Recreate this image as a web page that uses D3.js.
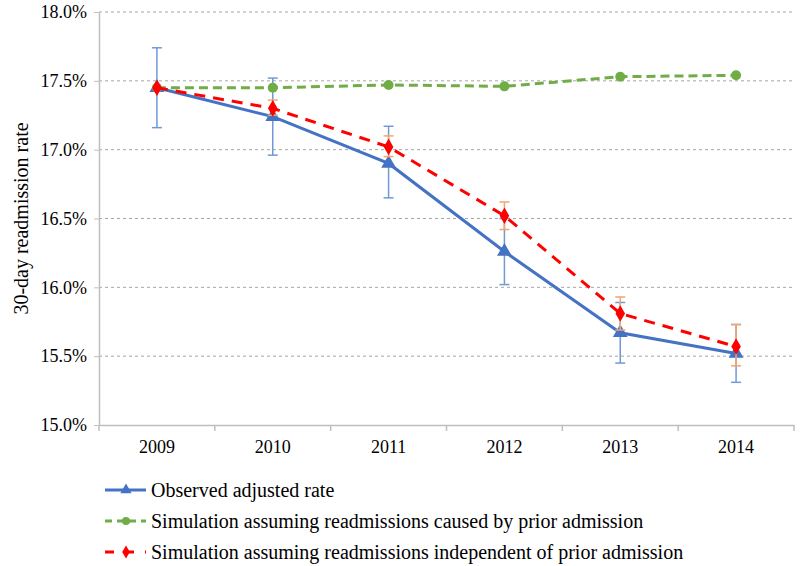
<!DOCTYPE html>
<html><head><meta charset="utf-8">
<script src="https://cdn.jsdelivr.net/npm/d3@7"></script>
<style>svg text{font-family:"Liberation Serif" !important;}</style>
</head><body style="margin:0"><svg id="c" width="800" height="566"></svg>
<script>
const years = ["2009","2010","2011","2012","2013","2014"];
const observed = [17.45, 17.24, 16.90, 16.26, 15.67, 15.52];
const observedLow = [17.16, 16.96, 16.65, 16.02, 15.45, 15.31];
const observedHigh = [17.74, 17.52, 17.17, 16.50, 15.89, 15.73];
const simCaused = [17.45, 17.45, 17.47, 17.46, 17.53, 17.54];
const simIndep = [17.45, 17.30, 17.02, 16.52, 15.81, 15.57];
const simIndepLow = [null, 17.25, 16.95, 16.42, 15.69, 15.43];
const simIndepHigh = [null, 17.36, 17.10, 16.62, 15.93, 15.73];
const yTicks = [15.0, 15.5, 16.0, 16.5, 17.0, 17.5, 18.0];
const legendLabels = ["Observed adjusted rate","Simulation assuming readmissions caused by prior admission","Simulation assuming readmissions independent of prior admission"];

const FONT = "Liberation Serif";
const svg = d3.select("#c");
svg.append("rect").attr("width",800).attr("height",566).attr("fill","#fff");
const m = {l:99, r:794, t:12, b:425};
const x = d3.scaleBand().domain(years).range([m.l, m.r]);
const y = d3.scaleLinear().domain([15, 18]).range([m.b, m.t]);
const cx = d => x(d) + x.bandwidth()/2;
const setFont = sel => sel.attr("font-family", FONT).style("font-family", FONT, "important");

// grid
svg.append("g").selectAll("line").data(yTicks.filter(t=>t>15)).join("line")
  .attr("x1", m.l).attr("x2", m.r).attr("y1", d=>y(d)).attr("y2", d=>y(d))
  .attr("stroke", "#a6a6a6").attr("stroke-dasharray","3,3").attr("stroke-width",1);

// y axis
const ya = svg.append("g").attr("transform",`translate(${m.l},0)`)
  .call(d3.axisLeft(y).tickValues(yTicks).tickFormat("").tickSize(5).tickSizeOuter(0));
ya.select(".domain").attr("stroke","#bfbfbf").attr("stroke-width",1.5);
ya.selectAll(".tick line").attr("stroke","#bfbfbf");
svg.append("g").selectAll("text").data(yTicks).join("text")
  .attr("x", m.l-12).attr("y", d=>y(d)).attr("dy","0.35em").attr("text-anchor","end")
  .attr("font-size",18).call(setFont).text(d=>d.toFixed(1)+"%");

// x axis
const xa = svg.append("g").attr("transform",`translate(0,${m.b})`)
  .call(d3.axisBottom(x).tickSize(0).tickSizeOuter(0).tickFormat(""));
xa.select(".domain").attr("stroke","#bfbfbf").attr("stroke-width",1.5);
svg.append("g").selectAll("text").data(years).join("text")
  .attr("x", d=>cx(d)).attr("y", m.b+28).attr("text-anchor","middle")
  .attr("font-size",18).call(setFont).text(d=>d);
svg.append("g").selectAll("line").data(years.concat(["end"])).join("line")
  .attr("x1",(d,i)=>m.l + i*x.step()).attr("x2",(d,i)=>m.l + i*x.step())
  .attr("y1",m.b).attr("y2",m.b+6).attr("stroke","#bfbfbf").attr("stroke-width",1.5);

svg.append("text").attr("transform",`translate(28,${(m.t+m.b)/2}) rotate(-90)`)
  .attr("text-anchor","middle").attr("font-size",20).call(setFont).text("30-day readmission rate");

// error bars
function errBars(low, high, color){
  const g = svg.append("g");
  years.forEach((yr,i)=>{
    if(low[i]==null) return;
    const X = cx(yr);
    g.append("line").attr("x1",X).attr("x2",X).attr("y1",y(low[i])).attr("y2",y(high[i])).attr("stroke",color).attr("stroke-width",1.5);
    [low[i],high[i]].forEach(v=>g.append("line").attr("x1",X-5).attr("x2",X+5).attr("y1",y(v)).attr("y2",y(v)).attr("stroke",color).attr("stroke-width",1.5));
  });
}
errBars(observedLow, observedHigh, "#6f9ad6");

const line = d3.line().x((d,i)=>cx(years[i])).y(d=>y(d));
const blue="#4472C4", green="#70AD47", red="#FF0000";

// observed
svg.append("path").datum(observed).attr("d",line).attr("fill","none").attr("stroke",blue).attr("stroke-width",3);
const tri = d3.symbol().type(d3.symbolTriangle).size(95);
svg.append("g").selectAll("path").data(observed).join("path").attr("d",tri)
  .attr("transform",(d,i)=>`translate(${cx(years[i])},${y(d)})`).attr("fill",blue);

// caused (green)
svg.append("path").datum(simCaused).attr("d",line).attr("fill","none").attr("stroke",green).attr("stroke-width",3).attr("stroke-dasharray","9,5");
svg.append("g").selectAll("circle").data(simCaused).join("circle")
  .attr("cx",(d,i)=>cx(years[i])).attr("cy",d=>y(d)).attr("r",5).attr("fill",green);

// independent (red)
errBars(simIndepLow, simIndepHigh, "#f4a56c");
svg.append("path").datum(simIndep).attr("d",line).attr("fill","none").attr("stroke",red).attr("stroke-width",3).attr("stroke-dasharray","11,8");
const dia = d3.symbol().type(d3.symbolDiamond).size(80);
svg.append("g").selectAll("path").data(simIndep).join("path").attr("d",dia)
  .attr("transform",(d,i)=>`translate(${cx(years[i])},${y(d)})`).attr("fill",red);

// legend
const lg = svg.append("g");
const ly = [490, 521, 552];
const styles = [
  {c:blue, dash:null, sym:"tri"},
  {c:green, dash:"7,5", sym:"circ"},
  {c:red, dash:"9,11", sym:"dia"}];
styles.forEach((s,i)=>{
  const Y = ly[i];
  lg.append("line").attr("x1",105).attr("x2",146).attr("y1",Y).attr("y2",Y).attr("stroke",s.c).attr("stroke-width",3).attr("stroke-dasharray",s.dash);
  if(s.sym==="tri") lg.append("path").attr("d",d3.symbol().type(d3.symbolTriangle).size(55)).attr("transform",`translate(126,${Y})`).attr("fill",s.c);
  if(s.sym==="circ") lg.append("circle").attr("cx",126).attr("cy",Y).attr("r",4).attr("fill",s.c);
  if(s.sym==="dia") lg.append("path").attr("d",d3.symbol().type(d3.symbolDiamond).size(50)).attr("transform",`translate(126,${Y})`).attr("fill",s.c);
  lg.append("text").attr("x",151).attr("y",Y+7).attr("font-size",20).call(setFont).text(legendLabels[i]);
});
</script></body></html>
